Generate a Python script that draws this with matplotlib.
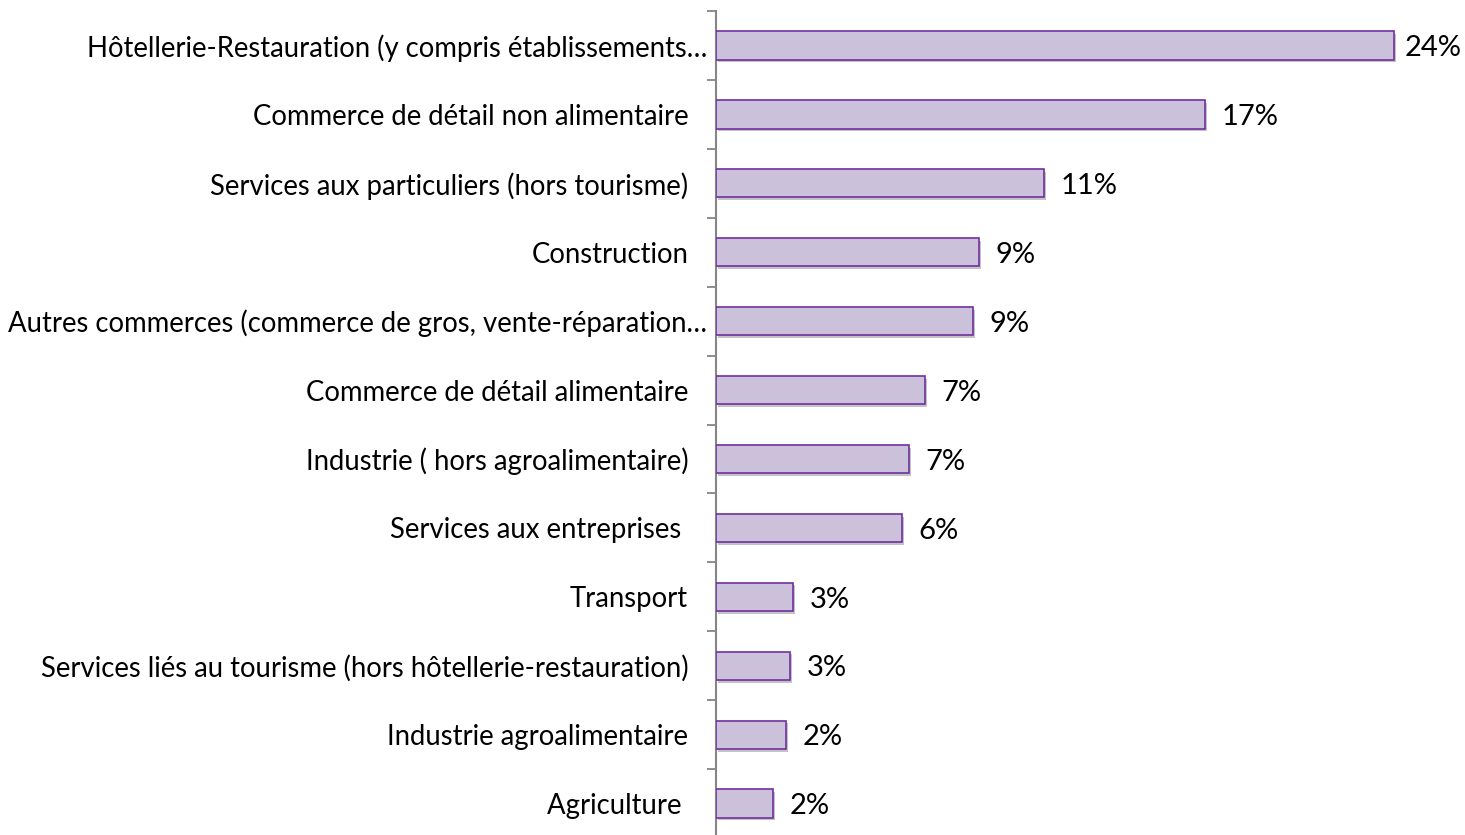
import matplotlib
matplotlib.use('Agg')
import matplotlib.pyplot as plt
import matplotlib.patheffects as pe

plt.rcParams['font.family'] = ['Lato', 'DejaVu Sans']

sectors = [
    'Hôtellerie-Restauration (y compris établissements…',
    'Commerce de détail non alimentaire',
    'Services aux particuliers (hors tourisme)',
    'Construction',
    'Autres commerces (commerce de gros, vente-réparation…',
    'Commerce de détail alimentaire',
    'Industrie ( hors agroalimentaire)',
    'Services aux entreprises ',
    'Transport',
    'Services liés au tourisme (hors hôtellerie-restauration)',
    'Industrie agroalimentaire',
    'Agriculture ',
]
shares = [23.62, 17.04, 11.43, 9.16, 8.95, 7.28, 6.72, 6.48, 2.68, 2.58, 2.44, 1.99]
truncated = [0, 4]  # labels cut by Excel sit closer to the axis

fig = plt.figure(figsize=(14.65, 8.35), dpi=100)
ax = fig.add_axes([0.4887, -0.0036, 0.5113, 0.9904])

pos = list(range(len(sectors)))
bars = ax.barh(pos, shares, height=0.41, color='#CCC1DA', edgecolor='#7030A0',
               linewidth=1.2, zorder=3)
for b in bars:
    b.set_path_effects([pe.SimplePatchShadow(offset=(1.5, -2), shadow_rgbFace='#555555', alpha=0.35),
                        pe.Normal()])

for p, v in zip(pos, shares):
    # the longest bar's label is squeezed against the right edge
    dx = 7.5 if v == max(shares) else 12
    ax.annotate(f'{v:.0f}%', (v, p), xytext=(dx, -2), textcoords='offset points',
                ha='left', va='center', fontsize=21, color='black')

ax.set_ylim(len(sectors) - 0.5, -0.5)
ax.set_xlim(0, 26.1)
ax.set_yticks([p - 0.5 for p in pos] + [len(sectors) - 0.5], minor=False)
ax.set_yticklabels([''] * (len(sectors) + 1))
ax.set_yticks(pos, minor=True)
ax.set_yticklabels(sectors, minor=True, fontsize=19.8)
ax.tick_params(axis='y', which='major', length=6.5, width=1.3, color='#868686', direction='out')
ax.tick_params(axis='y', which='minor', length=0, pad=20)
for i in truncated:
    ax.yaxis.get_minor_ticks()[i].set_pad(6.5)

for s in ['top', 'right', 'bottom']:
    ax.spines[s].set_visible(False)
ax.spines['left'].set_color('#868686')
ax.spines['left'].set_linewidth(1.5)
ax.xaxis.set_visible(False)
ax.patch.set_alpha(0)

fig.savefig('out.png', dpi=100)
